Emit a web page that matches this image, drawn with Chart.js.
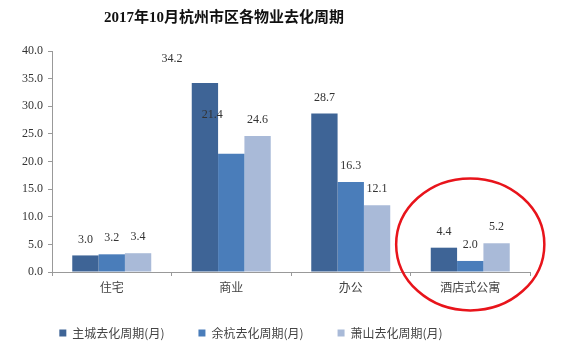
<!DOCTYPE html>
<html>
<head>
<meta charset="utf-8">
<script src="https://cdn.jsdelivr.net/npm/chart.js@4.4.0/dist/chart.umd.min.js"></script>
<style>
  html, body { margin: 0; padding: 0; background: #fff; }
  #wrap { width: 563px; height: 354px; position: relative; }
</style>
</head>
<body>
<div id="wrap"><canvas id="cycleChart"></canvas></div>
<script>
// 2017年10月杭州市区各物业去化周期
const categories = ['住宅', '商业', '办公', '酒店式公寓'];
const seriesNames = ['主城去化周期(月)', '余杭去化周期(月)', '萧山去化周期(月)'];
const mainCity = [3.0, 34.2, 28.7, 4.4];
const yuhang = [3.2, 21.4, 16.3, 2.0];
const xiaoshan = [3.4, 24.6, 12.1, 5.2];
const yTicks = [0, 5, 10, 15, 20, 25, 30, 35, 40];

const colors = ['#3E6496', '#4A7DBA', '#A9BAD8'];
const serif = "'Liberation Serif', 'Times New Roman', 'Noto Sans CJK SC', serif";
const cjk = "'Noto Sans CJK SC', sans-serif";

// value labels, with the odd shifts of the original
const valueLabels = {
    id: 'valueLabels',
    afterDatasetsDraw(chart, args, opts) {
        const ctx = chart.ctx;
        ctx.save();
        ctx.font = '12px ' + serif;
        ctx.fillStyle = '#333';
        ctx.textAlign = 'center';
        ctx.textBaseline = 'middle';
        chart.data.datasets.forEach((ds, i) => {
            chart.getDatasetMeta(i).data.forEach((bar, j) => {
                const shift = (opts.shift[i] && opts.shift[i][j]) || [0, 0];
                ctx.fillText(ds.data[j].toFixed(1), bar.x + shift[0], bar.y - 16 + shift[1]);
            });
        });
        ctx.restore();
    }
};

// title and red circle
const extras = {
    id: 'extras',
    afterLayout(chart) {
        // legend sits a bit left of centre in the original
        chart.legend.left -= 14;
        chart.legend.right -= 14;
        chart.legend.top -= 21;
        chart.legend.bottom = chart.height;
    },
    afterDraw(chart, args, opts) {
        const ctx = chart.ctx;
        ctx.save();
        ctx.font = 'bold 15px ' + serif;
        ctx.fillStyle = '#111';
        ctx.textAlign = 'center';
        ctx.textBaseline = 'middle';
        ctx.fillText(opts.title, 224, 18);

        const x = chart.scales.x;
        const y = chart.scales.y;
        const cx = x.getPixelForValue(opts.circle.index);
        const cy = y.getPixelForValue(opts.circle.value);
        const catW = x.width / categories.length;
        ctx.beginPath();
        ctx.ellipse(cx, cy, catW * 0.62, 66, 0, 0, Math.PI * 2);
        ctx.strokeStyle = '#E8141B';
        ctx.lineWidth = 2.5;
        ctx.stroke();
        ctx.restore();
    }
};

const ctx = document.getElementById('cycleChart').getContext('2d');
new Chart(ctx, {
    type: 'bar',
    data: {
        labels: categories,
        datasets: [
            { label: seriesNames[0], data: mainCity, backgroundColor: colors[0] },
            { label: seriesNames[1], data: yuhang, backgroundColor: colors[1] },
            { label: seriesNames[2], data: xiaoshan, backgroundColor: colors[2] }
        ]
    },
    options: {
        responsive: true,
        maintainAspectRatio: false,
        animation: false,
        datasets: {
            bar: { categoryPercentage: 0.661, barPercentage: 1.0 }
        },
        layout: { padding: { top: 51, right: 33, left: 0, bottom: 0 } },
        scales: {
            x: {
                grid: { display: true, drawOnChartArea: false, drawTicks: true, tickLength: 4, color: '#999' },
                border: { color: '#999' },
                ticks: { color: '#444', font: { family: cjk, size: 12 }, padding: 4 },
                afterFit(scale) { scale.height = 42; }
            },
            y: {
                min: 0,
                max: 40,
                afterBuildTicks(scale) { scale.ticks = yTicks.map(v => ({ value: v })); },
                grid: { display: true, drawOnChartArea: false, drawTicks: true, tickLength: 4, color: '#999' },
                border: { color: '#999' },
                ticks: {
                    color: '#333',
                    font: { family: serif, size: 12 },
                    padding: 5,
                    callback: v => v.toFixed(1)
                },
                afterFit(scale) { scale.width = 52; }
            }
        },
        plugins: {
            title: { display: false },
            tooltip: { enabled: false },
            legend: {
                position: 'bottom',
                maxHeight: 40,
                labels: {
                    boxWidth: 7,
                    boxHeight: 7,
                    padding: 34,
                    color: '#444',
                    font: { family: cjk, size: 12 }
                }
            },
            valueLabels: {
                shift: [
                    [null, [-33, -8]],
                    [null, [-19, -23]]
                ]
            },
            extras: {
                title: '2017年10月杭州市区各物业去化周期',
                circle: { index: 3, value: 5 }
            }
        }
    },
    plugins: [valueLabels, extras]
});
</script>
</body>
</html>
